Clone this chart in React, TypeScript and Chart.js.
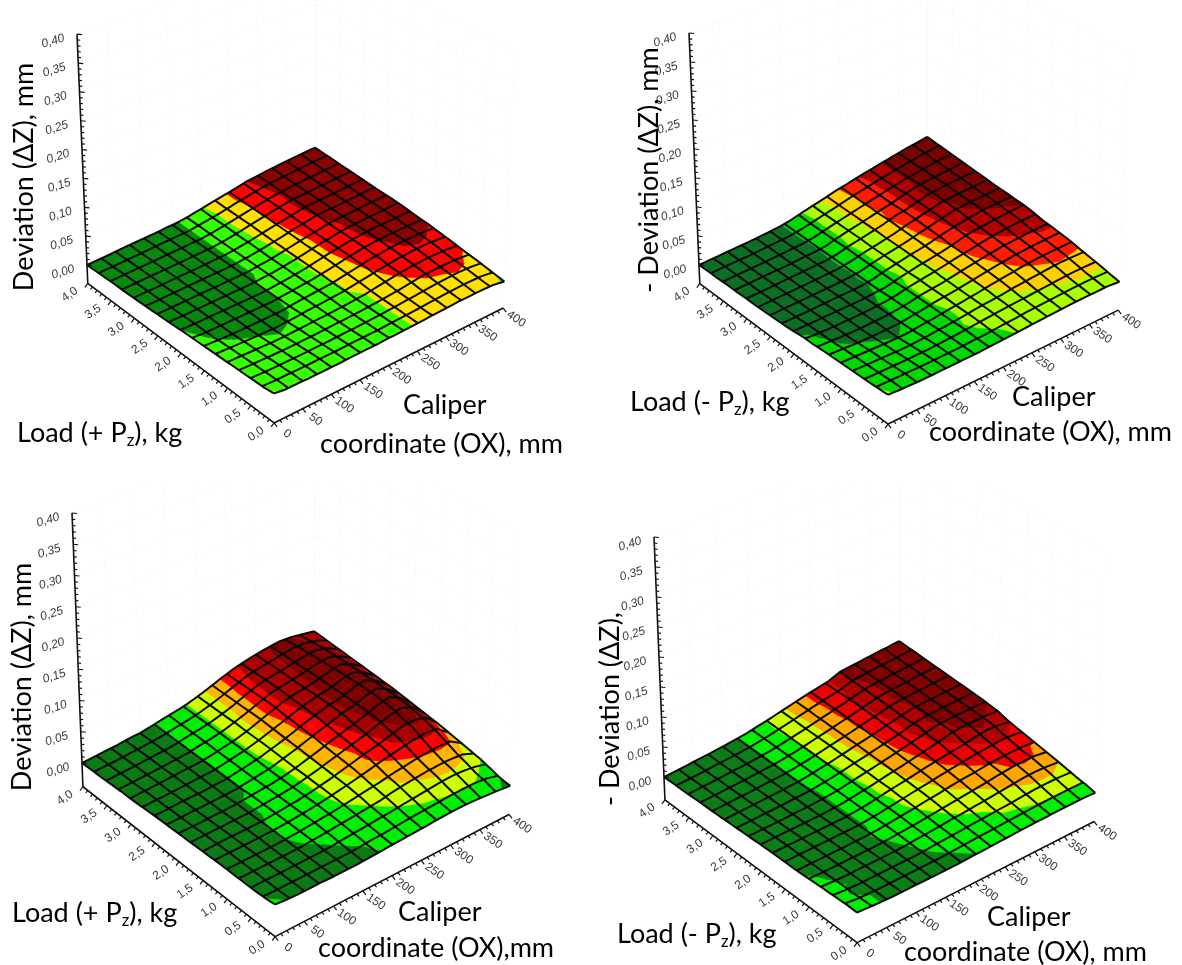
import React, { useEffect, useRef } from "react";
import { Chart, registerables } from "chart.js";
Chart.register(...registerables);

// Tick values
const zTicks = [0, 0.05, 0.1, 0.15, 0.2, 0.25, 0.3, 0.35, 0.4];
const loadTicks = [0, 0.5, 1, 1.5, 2, 2.5, 3, 3.5, 4];
const oxTicks = [0, 50, 100, 150, 200, 250, 300, 350, 400];

// Surface heights, one row per load step (first row: load 4.0, last row: load 0), one column per OX step (0..400)
const surfaceA = [
  [0,1,2,4,5,6,7,9,10,14,19,24,29,34,40,43,46,48,50,52,53],
  [1,2,3,4,5,7,8,9,10,14,18,23,29,34,39,43,45,47,49,51,52],
  [2,3,4,5,6,7,8,9,10,14,18,23,28,33,38,42,44,46,48,50,51],
  [3,4,5,5,6,7,8,9,10,13,18,23,28,33,38,41,43,45,47,49,50],
  [3,4,5,6,6,7,8,9,10,13,17,23,28,33,38,42,43,45,46,48,49],
  [4,5,5,6,7,7,8,9,10,13,17,22,27,32,37,42,43,44,45,47,48],
  [5,5,6,6,7,8,8,9,10,13,17,21,26,32,36,41,42,43,44,46,47],
  [6,6,7,7,8,8,9,9,10,13,16,21,26,31,35,40,41,42,44,45,46],
  [7,7,7,8,8,8,9,9,10,13,16,20,25,30,34,39,41,42,44,45,46],
  [8,8,8,8,9,9,9,9,11,13,16,20,25,30,34,39,41,42,43,44,45],
  [10,9,9,9,9,9,9,9,11,13,16,20,25,30,34,38,41,42,42,43,43],
  [11,9,9,9,9,9,9,9,11,14,16,20,24,29,34,38,40,41,41,41,41],
  [12,10,9,9,9,9,9,9,13,15,17,19,23,28,33,36,39,41,41,41,40],
  [13,12,10,9,9,9,9,10,13,15,17,18,23,27,32,36,38,40,41,40,37],
  [14,13,12,11,10,9,10,12,14,15,17,19,22,26,30,33,36,38,39,38,35],
  [15,14,13,12,11,11,12,13,14,15,16,18,20,24,28,32,34,36,36,35,32],
  [16,15,14,13,13,13,13,14,15,16,17,18,20,22,25,29,32,33,33,32,29],
  [17,16,15,15,14,14,15,15,16,16,17,18,20,22,24,26,29,30,31,30,27],
  [18,17,16,16,16,16,16,16,17,17,18,19,20,22,23,25,27,28,29,28,24],
  [19,18,18,17,17,17,17,17,18,18,18,19,20,21,22,24,25,26,26,25,21],
  [22,18,18,17,17,17,17,18,18,18,19,19,20,21,22,23,24,24,24,23,18],
];
const surfaceB = [
  [0,1,2,3,4,5,7,9,13,20,26,32,39,44,50,55,60,65,70,74,78],
  [1,2,3,3,4,6,7,9,13,19,25,31,38,44,49,54,60,64,69,73,76],
  [1,2,3,4,5,6,7,9,13,19,25,31,37,43,49,54,60,64,68,71,74],
  [2,3,3,4,5,6,8,9,12,19,25,31,37,43,48,54,60,64,67,70,72],
  [2,3,4,5,5,6,8,9,12,19,25,30,36,42,48,56,62,64,66,68,70],
  [3,3,4,5,6,7,8,9,13,20,25,30,36,44,48,55,62,64,66,67,68],
  [3,4,5,5,6,7,8,9,13,19,24,29,35,42,48,54,61,62,64,65,66],
  [4,5,5,6,6,7,8,9,12,19,24,29,34,41,47,53,59,61,62,63,64],
  [5,5,6,6,7,7,8,9,13,19,24,29,34,40,46,52,58,61,62,63,63],
  [6,6,6,7,7,8,8,9,12,19,24,29,33,38,45,50,54,57,60,61,61],
  [8,8,8,8,8,8,8,10,12,18,23,28,32,36,42,49,52,55,57,59,60],
  [11,9,8,8,8,8,9,11,14,20,24,28,32,37,41,46,50,53,55,57,57],
  [11,10,9,8,8,8,9,11,15,20,23,26,31,36,40,44,48,50,51,52,52],
  [13,11,9,8,8,9,9,12,15,20,23,26,30,34,38,42,45,47,49,50,50],
  [14,13,11,10,9,9,10,13,16,20,23,25,29,33,37,40,43,45,46,47,47],
  [15,14,13,12,11,10,11,14,16,19,22,25,28,32,35,38,41,43,44,44,44],
  [16,15,14,13,12,12,13,15,17,19,22,25,27,29,33,35,37,39,41,40,39],
  [17,16,15,15,14,14,15,16,18,20,22,24,26,28,29,31,33,35,36,36,35],
  [18,17,17,16,16,16,16,17,18,19,21,23,24,26,27,28,29,30,31,31,31],
  [20,19,18,18,17,17,17,17,18,18,19,21,22,24,25,26,27,28,28,28,26],
  [21,19,18,17,17,17,17,17,17,18,19,20,21,22,23,24,25,25,25,25,22],
];
const surfaceC = [
  [0,1,2,3,5,6,9,13,16,20,26,33,41,48,53,57,60,62,60,55,50],
  [1,2,2,4,5,7,9,13,16,20,26,33,41,49,54,57,61,64,63,58,49],
  [1,2,3,4,6,7,9,13,16,20,26,33,42,50,55,58,61,65,66,60,48],
  [2,3,4,5,6,7,9,13,16,20,26,33,42,50,55,58,61,66,68,61,47],
  [3,3,4,5,6,8,9,13,16,20,27,34,42,51,55,58,62,67,70,62,46],
  [3,4,5,6,7,8,9,12,16,20,26,34,42,50,55,58,62,68,72,63,45],
  [4,5,5,6,7,8,9,12,16,20,26,33,40,48,54,59,62,69,73,62,44],
  [5,5,6,7,7,8,9,12,16,20,26,32,39,47,53,59,62,70,74,62,43],
  [6,6,7,7,7,8,9,12,15,19,25,31,38,46,52,59,62,70,75,62,42],
  [6,6,7,7,8,8,9,12,15,18,24,30,37,44,50,58,62,70,75,62,40],
  [7,7,7,8,8,9,11,13,15,18,23,29,35,42,48,54,61,69,74,61,38],
  [7,8,8,8,9,9,11,13,15,18,23,28,34,40,46,52,60,67,71,60,36],
  [8,8,9,9,9,9,11,13,15,18,22,27,33,38,43,48,55,62,63,58,34],
  [8,9,9,9,9,10,11,13,15,18,22,26,31,37,43,47,52,58,60,53,32],
  [9,9,9,9,10,10,11,13,15,18,21,25,29,33,38,42,46,49,51,48,29],
  [9,9,9,9,9,10,11,13,15,17,20,23,26,29,33,36,39,41,42,41,26],
  [9,9,9,9,9,9,11,12,14,16,18,20,22,27,30,32,34,35,35,33,23],
  [9,9,9,9,9,9,9,11,13,14,16,18,20,23,25,28,30,31,30,27,20],
  [9,9,9,9,9,9,9,9,11,13,14,16,17,19,21,22,24,25,24,20,15],
  [10,9,9,9,9,9,9,9,9,11,12,13,15,16,17,18,19,19,19,17,10],
  [12,10,9,9,9,8,8,8,9,10,11,12,13,14,15,16,16,15,13,11,8],
];
const surfaceD = [
  [0,1,2,4,5,7,9,12,17,22,28,34,40,45,50,61,63,65,67,68,70],
  [1,1,2,4,5,7,9,12,17,22,28,34,40,45,50,60,62,64,65,67,69],
  [1,2,3,4,6,7,9,12,17,22,27,33,39,45,51,59,61,63,65,66,68],
  [2,3,3,5,6,7,9,12,16,21,27,33,39,45,52,58,61,63,64,66,67],
  [3,3,4,5,6,8,9,12,16,21,27,32,38,44,51,58,61,62,64,65,66],
  [3,4,5,5,7,8,9,12,16,21,27,32,38,44,50,57,61,62,63,64,65],
  [4,5,5,6,7,8,9,12,16,21,26,32,37,43,49,56,60,61,62,63,64],
  [5,5,6,6,7,8,9,12,16,20,26,31,37,42,48,55,60,61,62,63,63],
  [6,6,6,7,7,8,9,11,15,20,25,30,36,42,48,58,61,61,62,62,62],
  [7,7,7,7,8,8,9,11,15,20,25,30,35,41,47,52,59,61,61,61,60],
  [8,8,8,8,8,8,9,11,15,19,24,29,34,39,45,51,58,61,61,60,58],
  [9,9,9,9,9,9,9,11,14,19,24,28,33,38,42,46,50,55,60,58,51],
  [9,9,9,9,9,9,9,11,14,18,22,27,31,36,40,44,47,50,53,52,47],
  [9,9,9,9,9,9,9,11,14,18,22,26,29,33,37,40,44,46,48,47,43],
  [9,9,9,9,9,9,10,11,14,17,20,24,27,31,34,36,39,41,42,41,39],
  [11,9,9,9,9,9,9,11,13,15,18,21,24,27,30,33,37,40,41,40,35],
  [12,10,9,9,9,9,9,10,12,14,16,19,21,24,27,30,33,36,37,35,31],
  [13,11,9,9,9,9,9,9,11,13,15,17,19,20,22,24,27,30,31,30,27],
  [14,10,9,9,9,9,9,9,10,12,13,15,16,18,20,21,23,24,24,24,22],
  [15,11,10,9,9,9,9,9,9,10,12,13,14,15,16,17,18,19,19,19,19],
  [14,12,10,9,9,9,8,8,8,9,10,11,12,13,14,15,15,16,16,16,14],
];

const bandsA = ["#06880c", "#33ff00", "#ffe000", "#ff0000", "#8b0000"];
const bandsB = ["#0b6e23", "#00d800", "#a6ff00", "#ffd000", "#ff1a00", "#b00000", "#7a0000"];
const bandsC = ["#0a7a12", "#00ee00", "#ccff00", "#ffb400", "#ff0000", "#a80000", "#800000"];
const bandsD = ["#0a7d14", "#00ee00", "#ccff00", "#ffa500", "#ee0000", "#b00000", "#800000"];

const FONT = "Lato, 'Open Sans', sans-serif";
const MESH_CELLS = 16;

type Pt = { x: number; y: number };
type Part = { t: string; sub?: boolean };
type Label = { parts: Part[]; x: number; y: number; rot?: boolean; size: number };

const panels = [
  {
    box: [0, 0, 591, 483], data: surfaceA, bands: bandsA, unit: 0.0007, s: 577, floor: 0.032,
    L: [87, 265], F: [274, 403], R: [504, 289], B: [315, 168],
    labels: [
      { parts: [{ t: "Deviation (ΔZ), mm" }], x: 24, y: 177, rot: true, size: 27 },
      { parts: [{ t: "Load (+ P" }, { t: "z", sub: true }, { t: "), kg" }], x: 17, y: 433, size: 27 },
      { parts: [{ t: "Caliper" }], x: 403, y: 405, size: 27 },
      { parts: [{ t: "coordinate (OX), mm" }], x: 320, y: 444, size: 27 },
    ] as Label[],
  },
  {
    box: [591, 0, 1182, 483], data: surfaceB, bands: bandsB, unit: 0.0007, s: 580, floor: 0.032,
    L: [699, 265], F: [888, 404], R: [1119, 291], B: [927, 167],
    labels: [
      { parts: [{ t: "- Deviation (ΔZ), mm" }], x: 649, y: 170, rot: true, size: 27 },
      { parts: [{ t: "Load (- P" }, { t: "z", sub: true }, { t: "), kg" }], x: 630, y: 402, size: 27 },
      { parts: [{ t: "Caliper" }], x: 1012, y: 397, size: 27 },
      { parts: [{ t: "coordinate (OX), mm" }], x: 929, y: 432, size: 27 },
    ] as Label[],
  },
  {
    box: [0, 483, 591, 965], data: surfaceC, bands: bandsC, unit: 0.0008, s: 625, floor: 0.038,
    L: [82, 763], F: [275, 911], R: [510, 790], B: [314, 655],
    labels: [
      { parts: [{ t: "Deviation (ΔZ), mm" }], x: 22, y: 677, rot: true, size: 27 },
      { parts: [{ t: "Load (+ P" }, { t: "z", sub: true }, { t: "), kg" }], x: 12, y: 913, size: 27 },
      { parts: [{ t: "Caliper" }], x: 398, y: 912, size: 27 },
      { parts: [{ t: "coordinate (OX),mm" }], x: 318, y: 948, size: 27 },
    ] as Label[],
  },
  {
    box: [591, 483, 1182, 965], data: surfaceD, bands: bandsD, unit: 0.0006, s: 600, floor: 0.038,
    L: [664, 777], F: [857, 918], R: [1095, 798], B: [899, 665],
    labels: [
      { parts: [{ t: "- Deviation (ΔZ)," }], x: 610, y: 709, rot: true, size: 27 },
      { parts: [{ t: "Load (- P" }, { t: "z", sub: true }, { t: "), kg" }], x: 617, y: 934, size: 27 },
      { parts: [{ t: "Caliper" }], x: 987, y: 917, size: 27 },
      { parts: [{ t: "coordinate (OX), mm" }], x: 904, y: 952, size: 27 },
    ] as Label[],
  },
];

type P = (typeof panels)[number];

function pos(g: P, u: number, v: number, z: number): Pt {
  const wF = (1 - u) * (1 - v), wR = u * (1 - v), wL = (1 - u) * v, wB = u * v;
  const bx = wF * g.F[0] + wR * g.R[0] + wL * g.L[0] + wB * g.B[0];
  const by = wF * g.F[1] + wR * g.R[1] + wL * g.L[1] + wB * g.B[1];
  const s = g.s * (wF * 1.08 + wR * 1.03 + wL + wB * 0.95);
  const t = wF * -3 + wR * 25 + wL * -25 + wB * 3;
  return { x: bx + z * t, y: by - z * s };
}

type V = { u: number; v: number; z: number };
function clip(poly: V[], level: number, keepAbove: boolean): V[] {
  const out: V[] = [];
  for (let k = 0; k < poly.length; k++) {
    const a = poly[k], b = poly[(k + 1) % poly.length];
    const ain = keepAbove ? a.z >= level : a.z <= level;
    const bin = keepAbove ? b.z >= level : b.z <= level;
    if (ain) out.push(a);
    if (ain !== bin) {
      const t = (level - a.z) / (b.z - a.z);
      out.push({ u: a.u + (b.u - a.u) * t, v: a.v + (b.v - a.v) * t, z: level });
    }
  }
  return out;
}

const line = (pts: (Pt | null)[], color: string, width: number, dash: number[] = []) => ({
  data: pts.map((p) => p ?? { x: NaN, y: NaN }),
  showLine: true, borderColor: color, borderWidth: width, borderDash: dash,
  pointRadius: 0, fill: false, tension: 0, spanGaps: false, borderJoinStyle: "round" as const,
});

function buildDatasets(g: P) {
  const N = 20;
  const zAt = (i: number, j: number) => g.data[N - j][i] * g.unit;
  // height of the surface anywhere on a cell of the data grid
  const zOn = (u: number, v: number) => {
    const i = Math.min(N - 1, Math.floor(u * N)), j = Math.min(N - 1, Math.floor(v * N));
    const a = u * N - i, b = v * N - j;
    return zAt(i, j) * (1 - a) * (1 - b) + zAt(i + 1, j) * a * (1 - b) + zAt(i, j + 1) * (1 - a) * b + zAt(i + 1, j + 1) * a * b;
  };
  const sets: any[] = [];
  const zb = -g.floor;

  // axes and ticks (on top)
  const axis: (Pt | null)[] = [pos(g, 0, 1, 0.4), pos(g, 0, 1, zb), pos(g, 0, 0, zb), pos(g, 1, 0, zb)];
  sets.push(line(axis, "#111", 1.6));
  const ticks: (Pt | null)[] = [];
  const addTick = (p: Pt, dx: number, dy: number) => { ticks.push(p, { x: p.x + dx, y: p.y + dy }, null); };
  for (let k = 0; k <= 40; k++) {
    const major = k % 5 === 0;
    addTick(pos(g, 0, 1, k / 100), major ? 5 : 3, major ? 0.5 : 0.3);
  }
  for (let k = 0; k <= 40; k++) {
    const major = k % 5 === 0;
    addTick(pos(g, 0, k / 40, zb), major ? -3 : -2, major ? 4 : 2.5);
    addTick(pos(g, k / 40, 0, zb), major ? 3 : 2, major ? 4 : 2.5);
  }
  sets.push(line(ticks, "#111", 1.2));

  // mesh lines, following the surface through every data column and row
  const steps = 40;
  for (let m = 0; m <= MESH_CELLS; m++) {
    const f = m / MESH_CELLS;
    const a: Pt[] = [], b: Pt[] = [];
    for (let k = 0; k <= steps; k++) {
      const t = k / steps;
      a.push(pos(g, f, t, zOn(f, t)));
      b.push(pos(g, t, f, zOn(t, f)));
    }
    sets.push(line(a, "#0a0a0a", 2));
    sets.push(line(b, "#0a0a0a", 2));
  }

  // contour-coloured surface, nearest cell first because Chart.js paints the first dataset last
  const cells: [number, number][] = [];
  for (let i = 0; i < N; i++) for (let j = 0; j < N; j++) cells.push([i, j]);
  cells.sort((p, q) => p[0] + p[1] - (q[0] + q[1]));
  for (const [i, j] of cells) {
    const quad: V[] = [
      { u: i / N, v: j / N, z: zAt(i, j) },
      { u: (i + 1) / N, v: j / N, z: zAt(i + 1, j) },
      { u: (i + 1) / N, v: (j + 1) / N, z: zAt(i + 1, j + 1) },
      { u: i / N, v: (j + 1) / N, z: zAt(i, j + 1) },
    ];
    g.bands.forEach((color, b) => {
      let poly = quad;
      if (b > 0) poly = clip(poly, b * 10 * g.unit, true);
      if (poly.length && b < g.bands.length - 1) poly = clip(poly, (b + 1) * 10 * g.unit, false);
      if (poly.length < 3) return;
      const pts = poly.map((p) => pos(g, p.u, p.v, p.z));
      pts.push(pts[0]);
      sets.push({
        data: pts, showLine: true, borderColor: color, borderWidth: 0.7, backgroundColor: color,
        fill: "shape", pointRadius: 0, tension: 0,
      });
    });
  }

  // faint back walls
  const wall = "#ececec";
  for (const z of zTicks) {
    sets.push(line([pos(g, 0, 1, z), pos(g, 1, 1, z), pos(g, 1, 0, z)], wall, 1, [1, 3]));
  }
  for (let k = 0; k <= 8; k++) {
    const t = k / 8;
    sets.push(line([pos(g, t, 1, zb), pos(g, t, 1, 0.4)], wall, 1, [1, 3]));
    sets.push(line([pos(g, 1, t, zb), pos(g, 1, t, 0.4)], wall, 1, [1, 3]));
  }
  return sets;
}

const fmt = (n: number, d: number) => n.toFixed(d).replace(".", ",");

function Panel({ g }: { g: P }) {
  const ref = useRef<HTMLCanvasElement>(null);
  useEffect(() => {
    const [x0, y0, x1, y1] = g.box;
    const textPlugin = {
      id: "texts",
      afterDraw(chart: any) {
        const { ctx, scales } = chart;
        const X = (v: number) => scales.x.getPixelForValue(v);
        const Y = (v: number) => scales.y.getPixelForValue(v);
        ctx.save();
        ctx.fillStyle = "#3a3a3a";
        ctx.textAlign = "center";
        ctx.textBaseline = "middle";
        ctx.font = "italic 12px 'Liberation Sans', Arial, sans-serif";
        const put = (text: string, p: Pt, dx: number, dy: number, rot: number) => {
          ctx.save();
          ctx.translate(X(p.x) + dx, Y(p.y) + dy);
          ctx.rotate(rot);
          ctx.fillText(text, 0, 0);
          ctx.restore();
        };
        zTicks.forEach((z) => put(fmt(z, 2), pos(g, 0, 1, z), -24, 7, -0.3));
        ctx.font = "12px 'Liberation Sans', Arial, sans-serif";
        loadTicks.forEach((l) => put(fmt(l, 1), pos(g, 0, l / 4, -g.floor), -18, 11, -0.6));
        oxTicks.forEach((o) => put(String(o), pos(g, o / 400, 0, -g.floor), 13, 11, 0.6));

        ctx.fillStyle = "#000";
        ctx.textAlign = "left";
        g.labels.forEach((lab) => {
          const widths = lab.parts.map((p) => {
            ctx.font = `${p.sub ? lab.size * 0.62 : lab.size}px ${FONT}`;
            return ctx.measureText(p.t).width;
          });
          const total = widths.reduce((a, b) => a + b, 0);
          ctx.save();
          if (lab.rot) {
            ctx.translate(X(lab.x), Y(lab.y));
            ctx.rotate(-Math.PI / 2);
            ctx.translate(-total / 2, 0);
          } else {
            ctx.translate(X(lab.x), Y(lab.y));
          }
          let cx = 0;
          lab.parts.forEach((p, k) => {
            ctx.font = `${p.sub ? lab.size * 0.62 : lab.size}px ${FONT}`;
            ctx.fillText(p.t, cx, p.sub ? 8 : 0);
            cx += widths[k];
          });
          ctx.restore();
        });
        ctx.restore();
      },
    };
    const chart = new Chart(ref.current!, {
      type: "scatter",
      data: { datasets: buildDatasets(g) },
      options: {
        animation: false,
        responsive: false,
        events: [],
        layout: { padding: 0 },
        plugins: { legend: { display: false }, tooltip: { enabled: false }, title: { display: false } },
        scales: {
          x: { type: "linear", display: false, min: x0, max: x1 },
          y: { type: "linear", display: false, min: y0, max: y1, reverse: true },
        },
      },
      plugins: [textPlugin],
    } as any);
    return () => chart.destroy();
  }, [g]);
  const [x0, y0, x1, y1] = g.box;
  return (
    <canvas
      ref={ref}
      width={x1 - x0}
      height={y1 - y0}
      style={{ position: "absolute", left: x0, top: y0, width: x1 - x0, height: y1 - y0 }}
    />
  );
}

export default function App() {
  return (
    <div style={{ position: "absolute", left: 0, top: 0, width: 1182, height: 965, background: "#fff", overflow: "hidden" }}>
      {panels.map((g, k) => (
        <Panel key={k} g={g} />
      ))}
    </div>
  );
}
